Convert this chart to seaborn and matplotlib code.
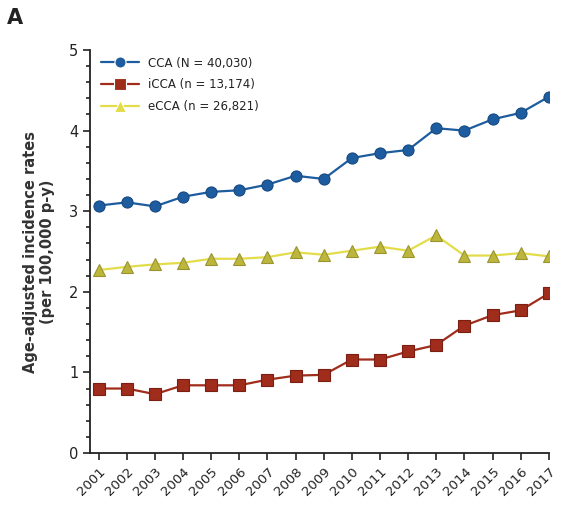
import numpy as np
import pandas as pd
import matplotlib
matplotlib.use('Agg')
import matplotlib.pyplot as plt
import seaborn as sns
from matplotlib.ticker import MultipleLocator

# data
years = list(range(2001, 2018))
cca = [3.07, 3.11, 3.06, 3.18, 3.24, 3.26, 3.33, 3.44, 3.40, 3.66, 3.72, 3.76, 4.03, 4.00, 4.14, 4.22, 4.42]
icca = [0.80, 0.80, 0.73, 0.84, 0.84, 0.84, 0.91, 0.96, 0.97, 1.16, 1.16, 1.26, 1.34, 1.58, 1.71, 1.77, 1.98]
ecca = [2.27, 2.31, 2.34, 2.36, 2.41, 2.41, 2.43, 2.49, 2.46, 2.51, 2.56, 2.51, 2.70, 2.45, 2.45, 2.48, 2.44]
labels = ['CCA (N = 40,030)', 'iCCA (n = 13,174)', 'eCCA (n = 26,821)']

df = pd.DataFrame({
    'year': years * 3,
    'rate': cca + icca + ecca,
    'group': [labels[0]] * 17 + [labels[1]] * 17 + [labels[2]] * 17,
})

sns.set_style('ticks')
plt.rcParams['font.family'] = ['DejaVu Sans']
plt.rcParams['text.color'] = '#222222'
plt.rcParams['axes.labelcolor'] = '#333333'
plt.rcParams['xtick.color'] = '#222222'
plt.rcParams['ytick.color'] = '#222222'
plt.rcParams['axes.edgecolor'] = '#222222'

fig = plt.figure(figsize=(5.64, 5.21), dpi=100)
ax = fig.add_axes([0.160, 0.1305, 0.813, 0.7735])

palette = {labels[0]: '#1d5c9e', labels[1]: '#a02c1c', labels[2]: '#e3dc4a'}
markers = {labels[0]: 'o', labels[1]: 's', labels[2]: '^'}
sns.lineplot(data=df, x='year', y='rate', hue='group', style='group',
             palette=palette, markers=markers, dashes=False, markersize=8,
             linewidth=1.6, ax=ax, markeredgewidth=0.8)

# darker marker edges / triangle fill
for line, lab in zip(ax.lines, labels):
    if lab == labels[2]:
        line.set_markerfacecolor('#bdb63c')
        line.set_markeredgecolor('#9a9430')
    elif lab == labels[1]:
        line.set_markeredgecolor('#7a1f12')
    else:
        line.set_markeredgecolor('#164a82')

ax.set_xlim(2000.7, 2017)
ax.set_ylim(0, 5)
ax.set_xticks(years)
ax.set_xticklabels([str(y) for y in years], rotation=45, ha='right',
                   rotation_mode='anchor', fontsize=9.5)
ax.yaxis.set_major_locator(MultipleLocator(1))
ax.yaxis.set_minor_locator(MultipleLocator(0.2))
ax.tick_params(axis='y', labelsize=10.5, length=5, width=1.2)
ax.tick_params(axis='y', which='minor', length=3, width=1.2)
ax.tick_params(axis='x', length=5, width=1.2)
for s in ['left', 'bottom']:
    ax.spines[s].set_linewidth(1.3)
sns.despine(ax=ax)

ax.set_xlabel('')
ax.set_ylabel('Age-adjusted incidence rates\n(per 100,000 p-y)', fontsize=10.5,
              fontweight='bold', labelpad=10)

leg = ax.legend(loc='upper left', frameon=False, fontsize=8.5, title=None,
                handlelength=3.2, labelspacing=0.75, bbox_to_anchor=(0.0, 1.01))
for h in leg.legend_handles:
    h.set_markersize(8)

fig.text(0.012, 0.953, 'A', fontsize=15, fontweight='bold')

fig.savefig('out.png', dpi=100)
